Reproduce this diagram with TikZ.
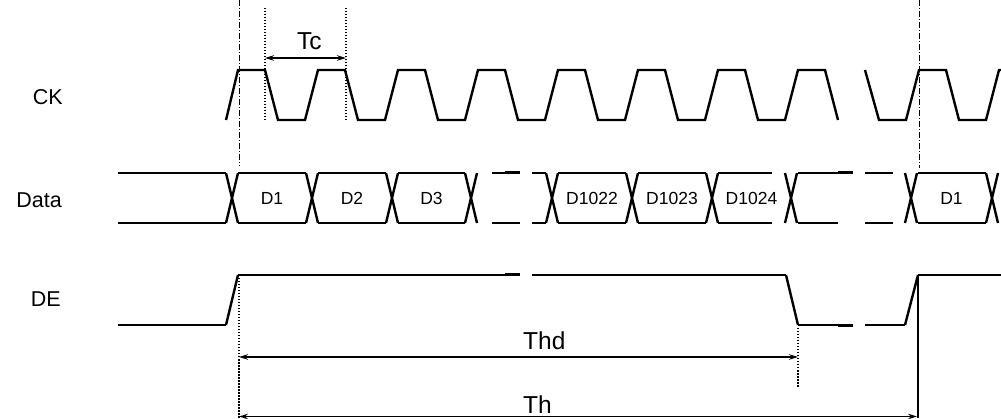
\documentclass[tikz,border=0pt]{standalone}
\usepackage{fontspec}
\setmainfont{Liberation Sans}
\usetikzlibrary{arrows.meta}
\tikzset{
 ck/.style={line width=2.4pt, line join=miter},
 dline/.style={line width=1.5pt},
 dthick/.style={line width=2.5pt},
 xingline/.style={line width=2.4pt},
 deline/.style={line width=1.5pt},
 deedge/.style={line width=2.4pt},
 dotv/.style={line width=2.2pt, dash pattern=on 1.5pt off 1.5pt},
 dashdotv/.style={line width=0.8pt, dash pattern=on 6pt off 2pt on 1pt off 2pt},
 dim/.style={line width=1.6pt, {Stealth[length=9pt,width=5.5pt]}-{Stealth[length=9pt,width=5.5pt]}},
 lbl/.style={font=\fontsize{21.5}{24}\selectfont, anchor=base east, inner sep=0pt},
 dlbl/.style={font=\fontsize{17.5}{20}\selectfont, anchor=base, inner sep=0pt},
 tlbl/.style={font=\fontsize{24.5}{27}\selectfont, anchor=base west, inner sep=0pt},
}
\newcommand\dataX[1]{%
 \draw[xingline] (#1,173) -- ({#1+12},223);
 \draw[xingline] (#1,223) -- ({#1+12},173);}
\newcommand\dataSeg[2]{%
 \draw[dline] (#1,173) -- (#2,173);
 \draw[dline] (#1,223) -- (#2,223);}
\begin{document}
\begin{tikzpicture}[x=1pt,y=-1pt]
\useasboundingbox (0,0) rectangle (1001,419);
% CK
\draw[ck] (226,120) \foreach \k in {0,...,6} { -- ({238+80*\k},70) -- ({265+80*\k},70) -- ({278+80*\k},120) -- ({305+80*\k},120) } -- (798,70) -- (825,70) -- (838,120);
\draw[ck] (865,70) -- (879,120) -- (906,120) -- (919,70) -- (946,70) -- (959,120) -- (986,120) -- (999,70) -- (1001,70);
% guides
\draw[dashdotv] (239,0) -- (239,166);
\draw[dashdotv] (919,0) -- (919,168);
\draw[dotv] (265,8) -- (265,122);
\draw[dotv] (346,8) -- (346,122);
\coordinate (tcL) at (265,58);
\coordinate (tcR) at (346,58);
\draw[dim] (tcL) -- (tcR);
\node[tlbl] (tc) at (297,50) {Tc};
% Data
\dataSeg{118}{226}
\dataSeg{238}{306}
\dataSeg{318}{386}
\dataSeg{398}{465}
\dataSeg{492}{520}
\draw[dthick] (505,172.5) -- (520,172.5);
\dataSeg{532}{546}
\dataSeg{558}{626}
\dataSeg{638}{706}
\dataSeg{718}{772}
\dataSeg{798}{838}
\draw[dthick] (838,172.5) -- (853,172.5);
\dataSeg{865}{893}
\dataSeg{918}{986}
\foreach \xx in {226,306,386,465,546,626,706,785,905,986} {\dataX{\xx}}
\node[dlbl] (d1) at (272,205) {D1};
\node[dlbl] (d2) at (352,205) {D2};
\node[dlbl] (d3) at (431.5,205) {D3};
\node[dlbl] (d1022) at (592,205) {D1022};
\node[dlbl] (d1023) at (672,205) {D1023};
\node[dlbl] (d1024) at (751.5,205) {D1024};
\node[dlbl] (d1b) at (951.5,205) {D1};
% DE
\draw[deline] (118,325) -- (226,325);
\draw[deedge] (226,325) -- (238,275);
\draw[deline] (238,275) -- (520,275);
\draw[dthick] (505,274.5) -- (520,274.5);
\draw[deline] (532,275) -- (786,275);
\draw[deedge] (786,275) -- (798,325);
\draw[deline] (798,325) -- (853,325);
\draw[dthick] (838,325.5) -- (853,325.5);
\draw[deline] (865,325) -- (905,325);
\draw[deedge] (905,325) -- (918,275);
\draw[deline] (918,275) -- (1001,275);
\draw[line width=2.6pt] (918,275) -- (918,418);
\draw[dotv] (239,275) -- (239,418);
\draw[dotv] (798,328) -- (798,388);
\coordinate (thdL) at (239,357);
\coordinate (thdR) at (798,357);
\coordinate (thL) at (239,416.5);
\coordinate (thR) at (917,416.5);
\draw[dim] (thdL) -- (thdR);
\draw[dim] (thL) -- (thR);
\node[tlbl] (thd) at (523,350) {Thd};
\node[tlbl] (th) at (523,413) {Th};
% labels
\node[lbl] (ck) at (63,105) {CK};
\node[lbl] (data) at (62,208) {Data};
\node[lbl] (de) at (61,307) {DE};
\end{tikzpicture}
\end{document}
